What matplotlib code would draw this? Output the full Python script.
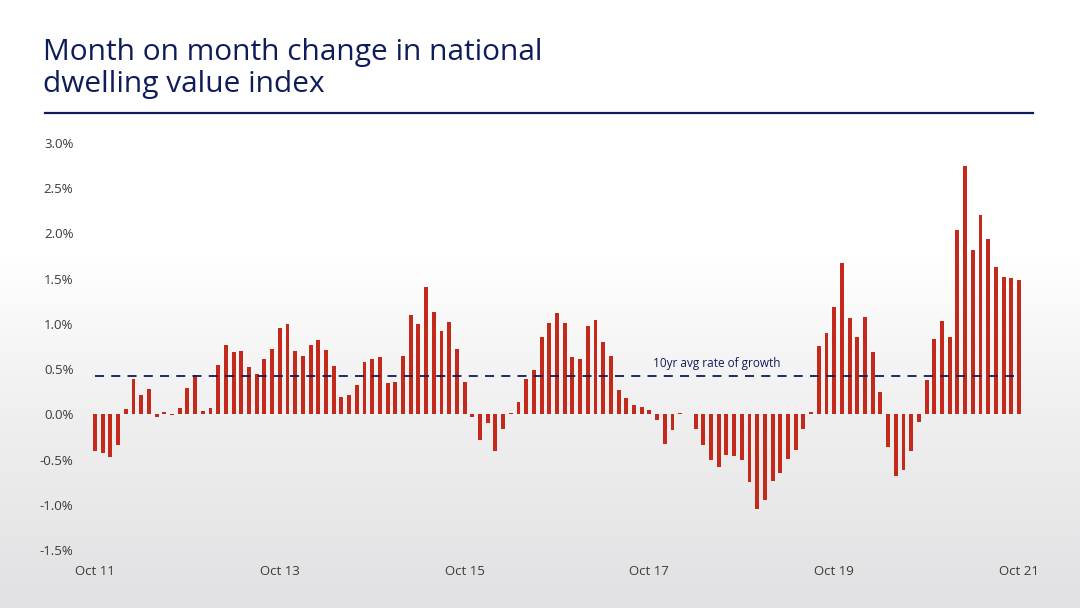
import matplotlib
matplotlib.use("Agg")
import matplotlib.pyplot as plt
import numpy as np
from matplotlib.colors import LinearSegmentedColormap

# monthly change in national dwelling value index, Oct 2011 .. Oct 2021 (%)
mom_change = [
    -0.41, -0.43, -0.47, -0.34, 0.06, 0.39, 0.21, 0.28, -0.03, 0.03, -0.01, 0.07,
    0.29, 0.43, 0.04, 0.07, 0.54, 0.77, 0.69, 0.70, 0.52, 0.45, 0.61, 0.72,
    0.96, 1.00, 0.70, 0.64, 0.77, 0.82, 0.71, 0.53, 0.19, 0.21, 0.32, 0.58,
    0.61, 0.63, 0.35, 0.36, 0.65, 1.10, 1.00, 1.41, 1.13, 0.92, 1.02, 0.72,
    0.36, -0.03, -0.28, -0.10, -0.40, -0.16, 0.02, 0.14, 0.39, 0.49, 0.85, 1.01,
    1.12, 1.01, 0.63, 0.61, 0.98, 1.04, 0.80, 0.64, 0.27, 0.18, 0.10, 0.08,
    0.05, -0.06, -0.33, -0.17, 0.01, 0.00, -0.16, -0.34, -0.51, -0.58, -0.45, -0.46,
    -0.51, -0.75, -1.05, -0.95, -0.74, -0.65, -0.49, -0.39, -0.16, 0.03, 0.76, 0.90,
    1.19, 1.67, 1.07, 0.85, 1.08, 0.69, 0.25, -0.36, -0.68, -0.61, -0.40, -0.09,
    0.38, 0.83, 1.03, 0.85, 2.04, 2.75, 1.82, 2.20, 1.94, 1.63, 1.52, 1.51,
    1.48,
]
avg_growth = 0.42
tick_months = [0, 24, 48, 72, 96, 120]
tick_labels = ["Oct 11", "Oct 13", "Oct 15", "Oct 17", "Oct 19", "Oct 21"]
y_ticks = [-1.5, -1.0, -0.5, 0.0, 0.5, 1.0, 1.5, 2.0, 2.5, 3.0]

NAVY = "#0e1d5a"
BAR_RED = "#c42a1c"
TICK_GREY = "#3a3a3a"
FONT = "Open Sans"

W, H = 1080, 608
fig = plt.figure(figsize=(W / 100, H / 100), dpi=100)

# background: white fading to light grey near the bottom
bg = fig.add_axes([0, 0, 1, 1], zorder=-10)
grad = np.linspace(0, 1, 300).reshape(-1, 1)
cmap = LinearSegmentedColormap.from_list(
    "bg", [(0, "#e1e1e3"), (0.35, "#f1f1f2"), (0.58, "#ffffff"), (1, "#ffffff")])
bg.imshow(grad, aspect="auto", cmap=cmap, origin="lower", extent=[0, 1, 0, 1])
bg.set_axis_off()

# title and rule
fig.text(43 / W, 1 - 60 / H, "Month on month change in national", color=NAVY,
         fontsize=21.5, family=FONT, ha="left", va="baseline")
fig.text(43 / W, 1 - 92 / H, "dwelling value index", color=NAVY,
         fontsize=21.5, family=FONT, ha="left", va="baseline")
fig.add_artist(plt.Line2D([45 / W, 1033 / W], [1 - 113 / H, 1 - 113 / H],
                          color=NAVY, lw=1.6, transform=fig.transFigure))

# main axes: x index -1..121 maps to px 87.3..1026.7, y -1.5..3.0 maps to px 550..143
left, right = 87.3, 1026.7
ax = fig.add_axes([left / W, 1 - 550 / H, (right - left) / W, (550 - 143) / H])
ax.patch.set_alpha(0)
x = np.arange(len(mom_change))
ax.bar(x, mom_change, width=0.5, color=BAR_RED, zorder=2)
ax.plot([0, len(mom_change) - 1], [avg_growth, avg_growth], color=NAVY, lw=1.3,
        ls=(0, (5, 4)), zorder=3)
ax.text(72.5, avg_growth + 0.07, "10yr avg rate of growth", color=NAVY,
        fontsize=8.5, family=FONT, ha="left", va="bottom")

ax.set_xlim(-1, len(mom_change))
ax.set_ylim(-1.5, 3.0)
ax.set_yticks(y_ticks)
ax.set_yticklabels([f"{v:.1f}%" for v in y_ticks])
ax.set_xticks(tick_months)
ax.set_xticklabels(tick_labels)
for s in ax.spines.values():
    s.set_visible(False)
ax.tick_params(axis="both", length=0, colors=TICK_GREY, labelsize=9.5)
ax.tick_params(axis="y", pad=10)
ax.tick_params(axis="x", pad=11)
for lab in ax.get_xticklabels() + ax.get_yticklabels():
    lab.set_family(FONT)

fig.savefig("out.png", dpi=100)
